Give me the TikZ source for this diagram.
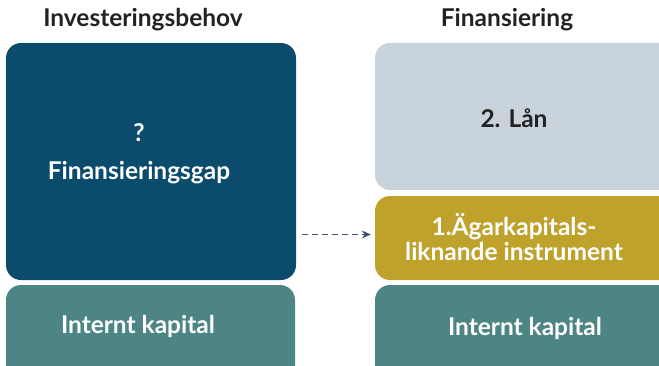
\documentclass[tikz,border=0pt]{standalone}
\usepackage{fontspec}
\setmainfont{Lato}
\usepackage{tikz}
\usetikzlibrary{arrows.meta}

\definecolor{navy}{HTML}{0B4B6C}
\definecolor{teal}{HTML}{4D8585}
\definecolor{mist}{HTML}{C9D3DC}
\definecolor{gold}{HTML}{BEA22C}
\definecolor{arrowblue}{HTML}{3F5672}
\definecolor{ink}{HTML}{222222}

\begin{document}
\begin{tikzpicture}[
    x=1pt, y=1pt,
    blk/.style={rectangle, rounded corners=15pt, inner sep=0pt},
    lbl/.style={font=\bfseries\fontsize{24.5}{24.5}\selectfont, text=white, align=center},
    ttl/.style={font=\bfseries\fontsize{24.5}{24.5}\selectfont, text=ink},
    arr/.style={-{Stealth[length=9pt, width=8pt]}, arrowblue, thick, dash pattern=on 6pt off 4pt}
  ]
  \useasboundingbox (0,0) rectangle (659,-365);
  \clip (0,0) rectangle (659,-365);

  % titles
  \node[ttl] (tleft)  at (143,-20) {Investeringsbehov};
  \node[ttl] (tright) at (507,-20) {Finansiering};

  % left column
  \node[blk, fill=navy, minimum width=290, minimum height=237] (gap) at (151,-161.5) {};
  \node[blk, fill=teal, minimum width=289, minimum height=100] (intl) at (150.5,-335) {};
  \node[lbl] (q) at (139,-133) {?};
  \node[lbl] (gaptxt) at (139,-173) {Finansieringsgap};
  \node[lbl] (intltxt) at (138,-326) {Internt kapital};

  % right column
  \node[blk, fill=mist, minimum width=305, minimum height=147] (loan) at (527.5,-116.5) {};
  \node[blk, fill=gold, minimum width=305, minimum height=84] (equity) at (527.5,-238) {};
  \node[blk, fill=teal, minimum width=305, minimum height=100] (intr) at (527.5,-335) {};
  \node[lbl, text=ink] (loantxt) at (514,-118) {2. Lån};
  \node[lbl] (eqtxt) at (514,-237) {1.Ägarkapitals-\\liknande instrument};
  \node[lbl] (intrtxt) at (525,-328) {Internt kapital};

  % arrow
  \coordinate (a0) at ([xshift=6pt, yshift=-73pt]gap.east);
  \coordinate (a1) at ([xshift=-4pt]equity.west |- a0);
  \draw[arr] (a0) -- (a1);
\end{tikzpicture}
\end{document}
